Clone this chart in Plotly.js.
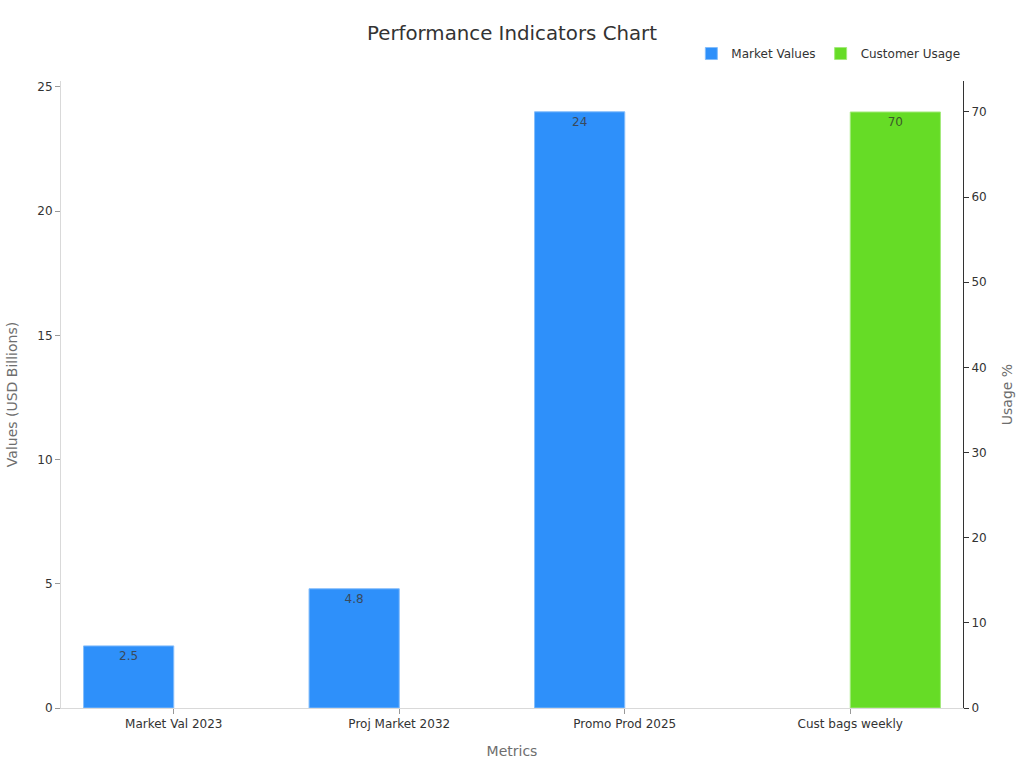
<!DOCTYPE html>
<html>
<head>
<meta charset="utf-8">
<script src="https://cdn.plot.ly/plotly-3.0.1.min.js"></script>
<style>html,body{margin:0;padding:0;background:#fff}#chart{width:1024px;height:768px}</style>
</head>
<body>
<div id="chart"></div>
<script>
const categories = ["Market Val 2023", "Proj Market 2032", "Promo Prod 2025", "Cust bags weekly"];
const marketValues = [2.5, 4.8, 24, null];
const customerUsage = [null, null, null, 70];
const marketLabels = ["2.5", "4.8", "24", ""];
const usageLabels = ["", "", "", "70"];
const FONT = "DejaVu Sans, sans-serif";
const traces = [
  {type:"bar", name:"Market Values", x:categories, y:marketValues, yaxis:"y",
   width:0.4, offset:-0.4, text:marketLabels, textposition:"inside", insidetextanchor:"end", textangle:0,
   constraintext:"none", cliponaxis:false,
   textfont:{family:FONT,size:12,color:"#3a4a5c"},
   marker:{color:"#2e90fa",line:{color:"#84bdfb",width:1}}, hoverinfo:"x+y"},
  {type:"bar", name:"Customer Usage", x:categories, y:customerUsage, yaxis:"y2",
   width:0.4, offset:0, text:usageLabels, textposition:"inside", insidetextanchor:"end", textangle:0,
   constraintext:"none", cliponaxis:false,
   textfont:{family:FONT,size:12,color:"#3b5a2a"},
   marker:{color:"#66dc26",line:{color:"#a3ea7c",width:1}}, hoverinfo:"x+y"}
];
const layout = {
  width:1024, height:768, paper_bgcolor:"#fff", plot_bgcolor:"#fff",
  font:{family:FONT,size:12,color:"#333"},
  margin:{l:60.5,r:60.5,t:81,b:60,pad:0},
  barmode:"overlay", bargap:0.2,
  title:{text:"Performance Indicators Chart",x:0.5,xanchor:"center",y:0.957,yanchor:"middle",font:{family:FONT,size:19.8,color:"#333"}},
  showlegend:true,
  legend:{orientation:"h",x:1.0026,xanchor:"right",y:1.0207,yanchor:"bottom",font:{family:FONT,size:12,color:"#333"},bgcolor:"rgba(0,0,0,0)",traceorder:"normal"},
  xaxis:{type:"category",categories:categories,categoryorder:"array",categoryarray:categories,range:[-0.5,3.5],
    showgrid:false,zeroline:false,showline:true,linecolor:"#d9d9d9",linewidth:1,
    ticks:"outside",ticklen:5,tickcolor:"#999",tickwidth:1,tickfont:{family:FONT,size:12,color:"#333"},
    title:{text:"Metrics",standoff:15,font:{family:FONT,size:14,color:"#6e6e6e"}}},
  yaxis:{range:[0,25.24],tick0:0,dtick:5,showgrid:false,zeroline:false,showline:true,linecolor:"#d9d9d9",linewidth:1,
    ticks:"outside",ticklen:5,tickcolor:"#999",tickwidth:1,tickfont:{family:FONT,size:12,color:"#333"},
    title:{text:"Values (USD Billions)",standoff:16,font:{family:FONT,size:14,color:"#6e6e6e"}}},
  yaxis2:{overlaying:"y",side:"right",range:[0,73.64],tick0:0,dtick:10,showgrid:false,zeroline:false,showline:true,linecolor:"#333",linewidth:1,
    ticks:"outside",ticklen:5,tickcolor:"#333",tickwidth:1,tickfont:{family:FONT,size:12,color:"#333"},
    title:{text:"Usage %",standoff:16,font:{family:FONT,size:14,color:"#6e6e6e"}}}
};
Plotly.newPlot("chart", traces, layout, {displayModeBar:false,responsive:false});
</script>
</body>
</html>
